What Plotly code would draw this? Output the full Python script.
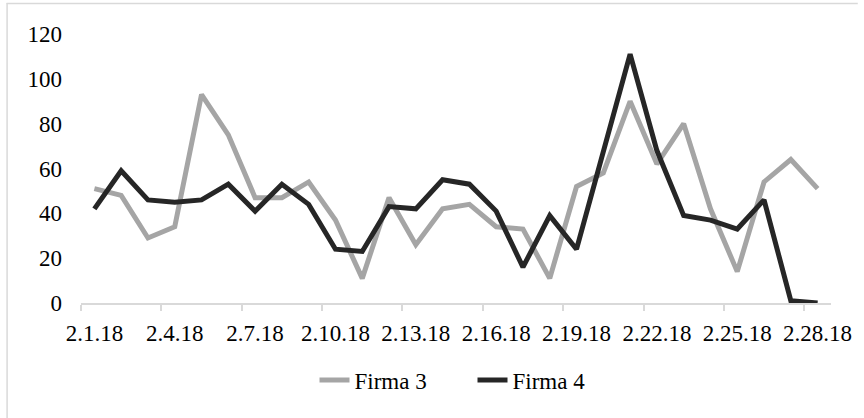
import plotly.graph_objects as go

# Daily values, 1-28 February 2018
dates = [f"2.{d}.18" for d in range(1, 29)]
firma3 = [51, 48, 29, 34, 93, 75, 47, 47, 54, 37, 11, 47, 26, 42, 44, 34,
          33, 11, 52, 58, 90, 62, 80, 42, 14, 54, 64, 51]
firma4 = [42, 59, 46, 45, 46, 53, 41, 53, 44, 24, 23, 43, 42, 55, 53, 41,
          16, 39, 24, 68, 111, 68, 39, 37, 33, 46, 1, 0]

label_step = 3
y_ticks = [0, 20, 40, 60, 80, 100, 120]

FONT = "'Liberation Serif', 'Times New Roman', 'DejaVu Serif', serif"
GREY = "#a5a5a5"
DARK = "#262626"
AXIS = "#d9d9d9"

idx = list(range(len(dates)))

fig = go.Figure()
fig.add_trace(go.Scatter(x=idx, y=firma3, mode="lines", name="Firma 3",
                         line=dict(color=GREY, width=5)))
fig.add_trace(go.Scatter(x=idx, y=firma4, mode="lines", name="Firma 4",
                         line=dict(color=DARK, width=5)))

xr = [-0.5, len(dates) - 0.5]
# tick marks sit on category boundaries, labels on the categories
boundary_ticks = [i - 0.5 for i in idx[::label_step]]
label_ticks = idx[::label_step]

fig.update_layout(
    width=864, height=418,
    margin=dict(l=81, r=27, t=34, b=115),
    paper_bgcolor="white", plot_bgcolor="white",
    font=dict(family=FONT, size=23, color="#000000"),
    showlegend=True,
    legend=dict(orientation="h", x=0.522, xanchor="center", y=-0.286,
                yanchor="middle", font=dict(family=FONT, size=23),
                itemwidth=30, tracegroupgap=0, entrywidth=113,
                entrywidthmode="pixels"),
    xaxis=dict(range=xr, showgrid=False, zeroline=False,
               showline=True, linecolor=AXIS, linewidth=2,
               tickmode="array", tickvals=boundary_ticks,
               ticks="outside", ticklen=6, tickcolor=AXIS, tickwidth=2,
               showticklabels=False),
    xaxis2=dict(range=xr, overlaying="x", side="bottom", anchor="y",
                showgrid=False, zeroline=False, showline=False,
                tickmode="array", tickvals=label_ticks,
                ticktext=[dates[i] for i in label_ticks],
                ticks="outside", ticklen=9, tickcolor="rgba(0,0,0,0)",
                tickfont=dict(family=FONT, size=23)),
    yaxis=dict(range=[0, 120], tickmode="array", tickvals=y_ticks,
               showgrid=False, zeroline=False, showline=False,
               ticks="", ticklabelstandoff=18,
               tickfont=dict(family=FONT, size=23)),
    shapes=[
        dict(type="line", xref="paper", yref="paper",
             x0=(6 - 81) / 756, x1=(864 - 81) / 756,
             y0=(303 - 3.5) / 269, y1=(303 - 3.5) / 269,
             line=dict(color=AXIS, width=1.5)),
        dict(type="line", xref="paper", yref="paper",
             x0=(6.5 - 81) / 756, x1=(6.5 - 81) / 756,
             y0=(303 - 3) / 269, y1=(303 - 418) / 269,
             line=dict(color=AXIS, width=1.5)),
    ],
)

# invisible trace keeps the label axis active
fig.add_trace(go.Scatter(x=[xr[0]], y=[None], xaxis="x2", showlegend=False,
                         hoverinfo="skip"))

fig.write_html("out.html")
